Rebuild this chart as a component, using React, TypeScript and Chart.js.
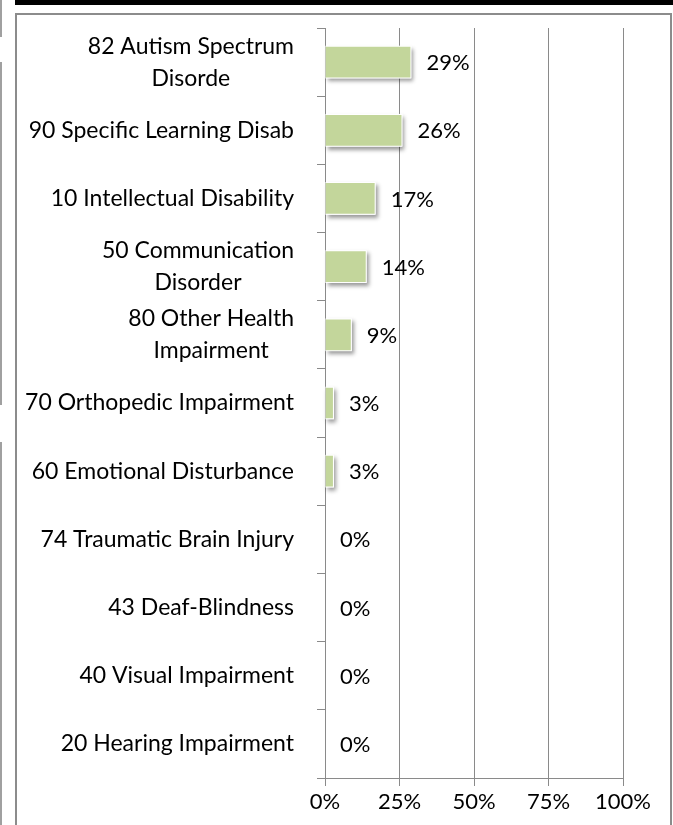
import React, { useEffect, useRef } from 'react';
import { Chart, registerables } from 'chart.js';

Chart.register(...registerables);

const categories: (string | string[])[] = [
  ['82 Autism Spectrum', 'Disorde'],
  '90 Specific Learning Disab',
  '10 Intellectual Disability',
  ['50 Communication', 'Disorder'],
  ['80 Other Health', 'Impairment'],
  '70 Orthopedic Impairment',
  '60 Emotional Disturbance',
  '74 Traumatic Brain Injury',
  '43 Deaf-Blindness',
  '40 Visual Impairment',
  '20 Hearing Impairment',
];
const percentages = [29, 26, 17, 14, 9, 3, 3, 0, 0, 0, 0];
const xTickValues = [0, 25, 50, 75, 100];

const FONT = 'Lato, "Open Sans", sans-serif';
const CAT_SIZE = 23;
const NUM_SIZE = 22;
const GRID = '#8a8a8a';
const BAR = '#C3D69B';

const barDecorPlugin = {
  id: 'barDecor',
  beforeDatasetsDraw(chart: any) {
    const ctx = chart.ctx;
    const meta = chart.getDatasetMeta(0);
    ctx.save();
    ctx.shadowColor = 'rgba(0,0,0,0.4)';
    ctx.shadowBlur = 4;
    ctx.shadowOffsetX = 2;
    ctx.shadowOffsetY = 3;
    ctx.fillStyle = '#ffffff';
    meta.data.forEach((bar: any) => {
      const w = bar.x - bar.base;
      if (w < 1) return;
      ctx.fillRect(bar.base, bar.y - bar.height / 2, w, bar.height);
    });
    ctx.restore();
  },
  afterDatasetsDraw(chart: any) {
    const ctx = chart.ctx;
    const meta = chart.getDatasetMeta(0);
    ctx.save();
    ctx.font = `${NUM_SIZE}px ${FONT}`;
    ctx.fillStyle = '#000';
    ctx.textAlign = 'left';
    ctx.textBaseline = 'middle';
    meta.data.forEach((bar: any, i: number) => {
      ctx.fillText(`${percentages[i]}%`, bar.x + 15, bar.y + 1);
    });
    ctx.restore();
  },
  afterDraw(chart: any) {
    const ctx = chart.ctx;
    const yScale = chart.scales.y;
    const right = chart.chartArea.left - 31;
    const lh = 32;
    ctx.save();
    ctx.font = `${CAT_SIZE}px ${FONT}`;
    ctx.fillStyle = '#000';
    ctx.textAlign = 'center';
    ctx.textBaseline = 'middle';
    categories.forEach((lab, i) => {
      const lines = Array.isArray(lab) ? lab : [lab];
      const bw = Math.max(...lines.map((l) => ctx.measureText(l).width));
      const cx = right - bw / 2;
      const py = yScale.getPixelForValue(i);
      const start = py - ((lines.length - 1) * lh) / 2;
      lines.forEach((l, k) => ctx.fillText(l, cx, start + k * lh));
    });
    ctx.restore();
  },
};

export default function App() {
  const ref = useRef<HTMLCanvasElement | null>(null);

  useEffect(() => {
    if (!ref.current) return;
    const chart = new Chart(ref.current, {
      type: 'bar',
      data: {
        labels: categories as any,
        datasets: [
          {
            data: percentages,
            backgroundColor: BAR,
            borderColor: '#ffffff',
            borderWidth: 1,
            borderSkipped: 'start',
            barPercentage: 0.48,
            categoryPercentage: 1,
          },
        ],
      },
      options: {
        indexAxis: 'y',
        responsive: false,
        animation: false,
        layout: { padding: { left: 0, right: 50, top: 28, bottom: 0 } },
        plugins: { legend: { display: false }, tooltip: { enabled: false } },
        scales: {
          x: {
            type: 'linear',
            min: 0,
            max: 100,
            afterBuildTicks: (s: any) => {
              s.ticks = xTickValues.map((v) => ({ value: v }));
            },
            ticks: {
              callback: (v: any) => `${v}%`,
              font: { family: FONT, size: NUM_SIZE },
              color: '#000',
              padding: 3,
              maxRotation: 0,
              autoSkip: false,
            },
            grid: { color: GRID, lineWidth: 1, tickLength: 8, drawTicks: true },
            border: { display: true, color: GRID, width: 1 },
            afterFit: (s: any) => {
              s.height = 47;
            },
          },
          y: {
            type: 'category',
            offset: true,
            grid: { offset: true, drawOnChartArea: false, drawTicks: true, tickLength: 8, color: GRID },
            border: { display: true, color: GRID, width: 1 },
            ticks: { display: false },
            afterFit: (s: any) => {
              s.width = 325;
            },
          },
        },
      } as any,
      plugins: [barDecorPlugin],
    });
    return () => chart.destroy();
  }, []);

  const frag = (top: number, height: number) => (
    <div style={{ position: 'absolute', left: 0, top, width: 2, height, background: '#a0a0a0' }} />
  );

  return (
    <div style={{ position: 'absolute', left: 0, top: 0, width: 673, height: 825, background: '#fff', overflow: 'hidden' }}>
      <div style={{ position: 'absolute', left: 15, top: 0, width: 658, height: 5, background: '#000' }} />
      <div
        style={{
          position: 'absolute',
          left: 15,
          top: 13,
          width: 657,
          height: 840,
          border: '2px solid #8c8c8c',
          boxSizing: 'border-box',
        }}
      />
      {frag(0, 37)}
      {frag(62, 343)}
      {frag(442, 383)}
      <canvas ref={ref} width={673} height={825} style={{ position: 'absolute', left: 0, top: 0, width: 673, height: 825 }} />
    </div>
  );
}
